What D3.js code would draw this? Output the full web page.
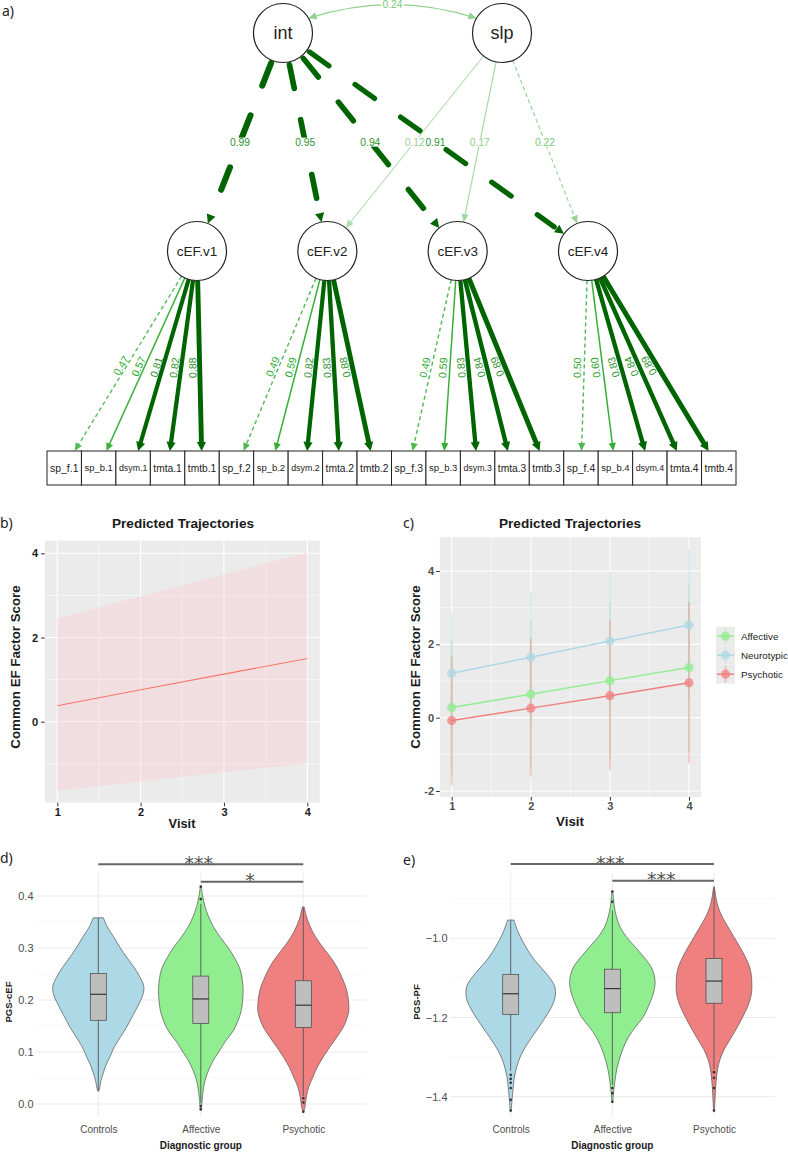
<!DOCTYPE html>
<html>
<head>
<meta charset="utf-8">
<script src="https://cdn.jsdelivr.net/npm/d3@7"></script>
<style>
  body { margin: 0; background: #fff; }
  svg { display: block; }
  text { font-family: "Liberation Sans", Arial, sans-serif; }
</style>
</head>
<body>
<svg id="fig" width="788" height="1153"></svg>
<script>
// ---- a) latent growth model
const growthFactors = ["int", "slp"];
const visitFactors = ["cEF.v1", "cEF.v2", "cEF.v3", "cEF.v4"];
const tasks = ["sp_f", "sp_b", "dsym", "tmta", "tmtb"];
const intLoadings = [0.99, 0.95, 0.94, 0.91];
const slpLoadings = [null, 0.12, 0.17, 0.22];   // no path to visit 1
const slpFixed = [false, false, false, true];
const intSlpCov = 0.24;
const taskLoadings = [
  [0.47, 0.57, 0.81, 0.82, 0.88],
  [0.49, 0.59, 0.82, 0.83, 0.88],
  [0.49, 0.59, 0.83, 0.84, 0.89],
  [0.50, 0.60, 0.83, 0.84, 0.89]
];

// ---- b) overall predicted trajectory
const visits = [1, 2, 3, 4];
const overallFit = [0.38, 0.76, 1.13, 1.50];
const overallLo = [-1.64, -1.42, -1.20, -0.99];
const overallHi = [2.45, 2.98, 3.50, 4.02];

// ---- c) predicted trajectories by group
const trajGroups = ["Affective", "Neurotypic", "Psychotic"];
const trajColors = ["#90ee90", "#add8e6", "#f08080"];
const affectiveFit = [0.28, 0.64, 1.01, 1.37];
const affectiveLo = [-1.56, -1.39, -1.14, -0.93];
const affectiveHi = [2.12, 2.67, 3.16, 3.67];
const neurotypicFit = [1.21, 1.65, 2.09, 2.53];
const neurotypicLo = [-0.43, -0.14, 0.20, 0.46];
const neurotypicHi = [2.85, 3.44, 3.98, 4.60];
const psychoticFit = [-0.08, 0.26, 0.60, 0.95];
const psychoticLo = [-1.84, -1.61, -1.43, -1.24];
const psychoticHi = [1.66, 2.16, 2.65, 3.15];

// ---- d) / e) polygenic scores by diagnostic group
const diagGroups = ["Controls", "Affective", "Psychotic"];
const diagColors = ["#add8e6", "#90ee90", "#f08080"];

// violin outlines: [score, relative density]
const cefViolinControls = [[0.358,0.11],[0.34,0.2],[0.322,0.33],[0.3,0.48],[0.283,0.61],[0.265,0.76],[0.245,0.9],[0.226,0.99],[0.21,0.97],[0.19,0.87],[0.17,0.75],[0.15,0.63],[0.13,0.49],[0.11,0.35],[0.09,0.25],[0.075,0.17],[0.06,0.11],[0.045,0.06],[0.033,0.035],[0.025,0.015]];
const cefViolinAffective = [[0.418,0.01],[0.4,0.04],[0.38,0.09],[0.36,0.17],[0.34,0.28],[0.32,0.43],[0.3,0.6],[0.28,0.74],[0.26,0.85],[0.24,0.9],[0.22,0.92],[0.2,0.91],[0.18,0.88],[0.16,0.81],[0.14,0.7],[0.12,0.53],[0.1,0.39],[0.085,0.28],[0.065,0.17],[0.046,0.094],[0.025,0.05],[0.008,0.03],[-0.012,0.01]];
const cefViolinPsychotic = [[0.379,0.02],[0.36,0.07],[0.35,0.11],[0.33,0.21],[0.313,0.33],[0.295,0.48],[0.275,0.65],[0.255,0.78],[0.237,0.87],[0.22,0.94],[0.2,0.98],[0.18,0.99],[0.165,0.95],[0.148,0.87],[0.13,0.74],[0.11,0.58],[0.09,0.43],[0.07,0.3],[0.05,0.2],[0.033,0.12],[0.015,0.07],[-0.006,0.035],[-0.015,0.01]];
const cefQ1 = [0.161, 0.155, 0.147];
const cefMedian = [0.211, 0.202, 0.190];
const cefQ3 = [0.251, 0.246, 0.237];
const cefWhiskLo = [0.025, 0.002, 0.015];
const cefWhiskHi = [0.358, 0.385, 0.378];
const cefOutliers = [[], [0.394, 0.418, -0.004, -0.010], [0.011, 0.003, -0.015]];
const cefTests = [["Controls", "Psychotic", "***", 0.461], ["Affective", "Psychotic", "*", 0.4275]];

const pfViolinControls = [[-0.954,0.07],[-0.98,0.15],[-1.004,0.25],[-1.03,0.38],[-1.055,0.53],[-1.072,0.66],[-1.089,0.79],[-1.105,0.9],[-1.122,0.98],[-1.147,0.99],[-1.168,0.93],[-1.189,0.83],[-1.215,0.68],[-1.24,0.53],[-1.265,0.38],[-1.29,0.25],[-1.315,0.16],[-1.34,0.1],[-1.365,0.065],[-1.39,0.044],[-1.415,0.025],[-1.437,0.01]];
const pfViolinAffective = [[-0.882,0.01],[-0.9,0.025],[-0.92,0.044],[-0.945,0.09],[-0.971,0.17],[-0.996,0.31],[-1.021,0.5],[-1.046,0.69],[-1.072,0.86],[-1.093,0.93],[-1.114,0.95],[-1.13,0.93],[-1.147,0.89],[-1.172,0.8],[-1.198,0.69],[-1.223,0.52],[-1.249,0.36],[-1.275,0.25],[-1.3,0.17],[-1.33,0.1],[-1.358,0.06],[-1.385,0.03],[-1.413,0.01]];
const pfViolinPsychotic = [[-0.87,0.01],[-0.895,0.04],[-0.92,0.09],[-0.945,0.18],[-0.971,0.31],[-0.996,0.44],[-1.021,0.57],[-1.046,0.69],[-1.072,0.79],[-1.093,0.83],[-1.114,0.84],[-1.13,0.84],[-1.147,0.82],[-1.172,0.75],[-1.198,0.64],[-1.228,0.5],[-1.257,0.35],[-1.282,0.22],[-1.307,0.13],[-1.33,0.08],[-1.358,0.05],[-1.39,0.03],[-1.437,0.01]];
const pfQ1 = [-1.192, -1.188, -1.164];
const pfMedian = [-1.140, -1.127, -1.108];
const pfQ3 = [-1.091, -1.078, -1.051];
const pfWhiskLo = [-1.335, -1.37, -1.33];
const pfWhiskHi = [-0.955, -0.93, -0.875];
const pfOutliers = [[-1.345, -1.355, -1.365, -1.378, -1.408, -1.435], [-0.908, -0.882, -1.378, -1.391, -1.413], [-1.338, -1.352, -1.378, -1.435]];
const pfTests = [["Controls", "Psychotic", "***", -0.8124], ["Affective", "Psychotic", "***", -0.8545]];

const svg = d3.select("#fig");

function letter(t, x, y) {
  svg.append("text").attr("x", x).attr("y", y).text(t)
    .style("font-family", "'Noto Sans', 'Open Sans', sans-serif")
    .style("font-size", "14px").attr("fill", "#222");
}

// =================== a) path diagram ===================
letter("a)", 2, 16);
const gA = svg.append("g");
const gEdge = gA.append("g"), gNode = gA.append("g"), gLab = gA.append("g");
const nodeR = 29.5, yTop = 33, yVisit = 251, boxTop = 451, boxH = 34;
const xTop = d3.scalePoint().domain(growthFactors).range([283, 502]);
const xVisit = d3.scalePoint().domain(visitFactors).range([197, 588]);
const xBox = d3.scaleBand().domain(d3.range(visitFactors.length * tasks.length)).range([47, 736]);

const weakCol = "#009900", strongCol = "#006400";
const edgeCol = w => w >= 0.8 ? strongCol : d3.interpolateRgb("#ffffff", weakCol)(Math.min(1, 0.2 + w));
const edgeW = w => w >= 0.8 ? 4 + (w - 0.8) * 11 : 1 + w * 0.8;
const labCol = w => w >= 0.8 ? "#2f922f" : d3.interpolateRgb("#ffffff", weakCol)(Math.min(1, 0.3 + w));

function onCircle(cx, cy, tx, ty) {
  const dx = tx - cx, dy = ty - cy, L = Math.hypot(dx, dy);
  return [cx + nodeR * dx / L, cy + nodeR * dy / L];
}

function arrowHead(tip, from, col, al, aw) {
  const dx = tip[0] - from[0], dy = tip[1] - from[1], L = Math.hypot(dx, dy);
  const ux = dx / L, uy = dy / L;
  const b = [tip[0] - ux * al, tip[1] - uy * al];
  gEdge.append("path")
    .attr("d", `M${tip[0]},${tip[1]}L${b[0] - uy * aw},${b[1] + ux * aw}L${b[0] + uy * aw},${b[1] - ux * aw}Z`)
    .attr("fill", col);
}

function arrowEdge(p0, p1, w, dashed) {
  const col = edgeCol(w), sw = edgeW(w), thick = sw > 3;
  const dx = p1[0] - p0[0], dy = p1[1] - p0[1], L = Math.hypot(dx, dy);
  const al = thick ? 9 : 8, aw = thick ? 4.6 : 3.6;
  const cut = (thick && dashed) ? al + 3 : al * 0.8;
  gEdge.append("line")
    .attr("x1", p0[0] + (thick && dashed ? 3 * dx / L : 0)).attr("y1", p0[1] + (thick && dashed ? 3 * dy / L : 0))
    .attr("x2", p1[0] - dx / L * cut).attr("y2", p1[1] - dy / L * cut)
    .attr("stroke", col).attr("stroke-width", sw)
    .attr("stroke-dasharray", dashed ? (thick ? "24 32" : "4 3") : null)
    .attr("stroke-linecap", dashed && thick ? "round" : "butt");
  arrowHead(p1, p0, col, al, aw);
}

function flatLabel(x, y, txt, w) {
  const t = gLab.append("text").attr("x", x).attr("y", y).attr("dy", "0.35em")
    .attr("text-anchor", "middle").style("font-size", "10.3px").attr("fill", labCol(w)).text(txt);
  const bb = t.node().getBBox();
  gLab.insert("rect", () => t.node())
    .attr("x", bb.x - 1).attr("y", bb.y + 1).attr("width", bb.width + 2).attr("height", bb.height - 2)
    .attr("fill", "#fff");
}

// intercept and slope loadings
visitFactors.forEach((v, i) => {
  const tx = xVisit(v);
  const p0 = onCircle(xTop("int"), yTop, tx, yVisit), p1 = onCircle(tx, yVisit, xTop("int"), yTop);
  arrowEdge(p0, p1, intLoadings[i], true);
  flatLabel((p0[0] + p1[0]) / 2, (p0[1] + p1[1]) / 2, intLoadings[i].toFixed(2), intLoadings[i]);
});
visitFactors.forEach((v, i) => {
  if (slpLoadings[i] === null) return;
  const tx = xVisit(v);
  const p0 = onCircle(xTop("slp"), yTop, tx, yVisit), p1 = onCircle(tx, yVisit, xTop("slp"), yTop);
  arrowEdge(p0, p1, slpLoadings[i], slpFixed[i]);
  flatLabel((p0[0] + p1[0]) / 2, (p0[1] + p1[1]) / 2, slpLoadings[i].toFixed(2), slpLoadings[i]);
});

// int <-> slp covariance
{
  const a = Math.PI / 6;
  const a0 = [xTop("int") + nodeR * Math.cos(a), yTop - nodeR * Math.sin(a)];
  const a1 = [xTop("slp") - nodeR * Math.cos(a), yTop - nodeR * Math.sin(a)];
  const c = [(a0[0] + a1[0]) / 2, yTop - 42];
  const col = edgeCol(intSlpCov);
  gEdge.append("path").attr("d", `M${a0[0]},${a0[1]} Q${c[0]},${c[1]} ${a1[0]},${a1[1]}`).attr("fill", "none")
    .attr("stroke", col).attr("stroke-width", 1.2);
  arrowHead(a0, c, col, 8, 3.6);
  arrowHead(a1, c, col, 8, 3.6);
  flatLabel(0.25 * a0[0] + 0.5 * c[0] + 0.25 * a1[0], 0.25 * a0[1] + 0.5 * c[1] + 0.25 * a1[1],
    intSlpCov.toFixed(2), intSlpCov);
}

// visit factor -> task loadings
visitFactors.forEach((v, i) => {
  const cx = xVisit(v);
  tasks.forEach((t, j) => {
    const k = i * tasks.length + j;
    const bx = xBox(k) + xBox.bandwidth() / 2, by = boxTop + boxH / 2;
    const s = (boxTop - yVisit) / (by - yVisit);
    const p1 = [cx + s * (bx - cx), boxTop];
    const p0 = onCircle(cx, yVisit, bx, by);
    const w = taskLoadings[i][j];
    arrowEdge(p0, p1, w, j === 0);
    const m = [(p0[0] + p1[0]) / 2 - 7, (p0[1] + p1[1]) / 2 + 2];
    const ang = Math.atan2(p0[1] - p1[1], p0[0] - p1[0]) * 180 / Math.PI;
    gLab.append("text").attr("transform", `translate(${m[0]},${m[1]}) rotate(${ang})`)
      .attr("text-anchor", "middle").attr("dy", "0.35em").style("font-size", "10.5px")
      .attr("fill", labCol(w)).text(w.toFixed(2));
  });
});

// nodes
growthFactors.forEach(f => {
  gNode.append("circle").attr("cx", xTop(f)).attr("cy", yTop).attr("r", nodeR)
    .attr("fill", "#fff").attr("stroke", "#222").attr("stroke-width", 1.2);
  gNode.append("text").attr("x", xTop(f)).attr("y", yTop).attr("dy", "0.35em")
    .attr("text-anchor", "middle").style("font-size", "18px").attr("fill", "#222").text(f);
});
visitFactors.forEach(v => {
  gNode.append("circle").attr("cx", xVisit(v)).attr("cy", yVisit).attr("r", nodeR)
    .attr("fill", "#fff").attr("stroke", "#222").attr("stroke-width", 1.2);
  gNode.append("text").attr("x", xVisit(v)).attr("y", yVisit).attr("dy", "0.35em")
    .attr("text-anchor", "middle").style("font-size", "13.5px").attr("fill", "#222").text(v);
});
visitFactors.forEach((v, i) => tasks.forEach((t, j) => {
  const k = i * tasks.length + j;
  gNode.append("rect").attr("x", xBox(k)).attr("y", boxTop)
    .attr("width", xBox.bandwidth()).attr("height", boxH)
    .attr("fill", "#fff").attr("stroke", "#222").attr("stroke-width", 1);
  const txt = gNode.append("text").attr("x", xBox(k) + xBox.bandwidth() / 2).attr("y", boxTop + boxH / 2)
    .attr("dy", "0.35em").attr("text-anchor", "middle").style("font-size", "11px")
    .attr("fill", "#222").text(`${t}.${i + 1}`);
  const len = txt.node().getComputedTextLength();
  if (len > 28.5) txt.style("font-size", (11 * 28.5 / len).toFixed(2) + "px");
}));

// =================== shared ggplot grey panel ===================
function greyPanel(g, x, y, xDom, yDom, xMajor, xMinor, yMajor, yMinor) {
  const x0 = x(xDom[0]), x1 = x(xDom[1]), y0 = y(yDom[0]), y1 = y(yDom[1]);
  g.append("rect").attr("x", x0).attr("y", y1).attr("width", x1 - x0).attr("height", y0 - y1).attr("fill", "#ebebeb");
  const vline = (v, sw) => g.append("line").attr("x1", x(v)).attr("x2", x(v)).attr("y1", y1).attr("y2", y0)
    .attr("stroke", "#fff").attr("stroke-width", sw);
  const hline = (v, sw) => g.append("line").attr("x1", x0).attr("x2", x1).attr("y1", y(v)).attr("y2", y(v))
    .attr("stroke", "#fff").attr("stroke-width", sw);
  xMinor.forEach(v => vline(v, 0.55));
  yMinor.forEach(v => hline(v, 0.55));
  xMajor.forEach(v => vline(v, 1.1));
  yMajor.forEach(v => hline(v, 1.1));
  return { x0, x1, y0, y1 };
}

function styleAxis(sel, fill, weight, size) {
  sel.select(".domain").remove();
  sel.selectAll(".tick line").attr("stroke", "#333").attr("stroke-width", 1);
  sel.selectAll(".tick text").attr("fill", fill).style("font-weight", weight)
    .style("font-size", size).style("font-family", "'Liberation Sans', Arial, sans-serif");
}

// =================== b) overall trajectory ===================
letter("b)", 0, 528);
const gB = svg.append("g");
const bx = d3.scaleLinear().domain([1, 4]).range([57.3, 307.3]);
const by = d3.scaleLinear().domain([0, 4]).range([721.7, 553.3]);
const bPad = (d3.max(overallHi) - d3.min(overallLo)) * 0.05;
const bP = greyPanel(gB, bx, by, [0.85, 4.15], [d3.min(overallLo) - bPad, d3.max(overallHi) + bPad],
  [1, 2, 3, 4], [1.5, 2.5, 3.5], [0, 2, 4], [-1, 1, 3]);

gB.append("path").datum(visits)
  .attr("d", d3.area().x(d => bx(d)).y0((d, i) => by(overallLo[i])).y1((d, i) => by(overallHi[i])))
  .attr("fill", "pink").attr("fill-opacity", 0.3);
gB.append("path").datum(visits)
  .attr("d", d3.line().x(d => bx(d)).y((d, i) => by(overallFit[i])))
  .attr("fill", "none").attr("stroke", "#f8766d").attr("stroke-width", 1.1);

gB.append("g").attr("transform", `translate(${bP.x0},0)`)
  .call(d3.axisLeft(by).tickValues([0, 2, 4]).tickSize(3.7).tickPadding(3).tickFormat(d3.format("d")))
  .call(s => styleAxis(s, "#1a1a1a", "bold", "11px"));
gB.append("g").attr("transform", `translate(0,${bP.y0})`)
  .call(d3.axisBottom(bx).tickValues(visits).tickSize(3.7).tickPadding(2).tickFormat(d3.format("d")))
  .call(s => styleAxis(s, "#1a1a1a", "bold", "11px"));

gB.append("text").attr("x", 183).attr("y", 528).attr("text-anchor", "middle")
  .style("font-weight", "bold").style("font-size", "13.6px").attr("fill", "#1a1a1a").text("Predicted Trajectories");
gB.append("text").attr("x", 182).attr("y", 828).attr("text-anchor", "middle")
  .style("font-weight", "bold").style("font-size", "12.8px").attr("fill", "#1a1a1a").text("Visit");
gB.append("text").attr("transform", "translate(19.5,667) rotate(-90)").attr("text-anchor", "middle")
  .style("font-weight", "bold").style("font-size", "13.3px").attr("fill", "#1a1a1a").text("Common EF Factor Score");

// =================== c) trajectories by group ===================
letter("c)", 403, 528);
const gC = svg.append("g");
const cx = d3.scaleLinear().domain([1, 4]).range([451.7, 689]);
const cy = d3.scaleLinear().domain([-2, 4]).range([791, 571]);
const cFits = [affectiveFit, neurotypicFit, psychoticFit];
const cLos = [affectiveLo, neurotypicLo, psychoticLo];
const cHis = [affectiveHi, neurotypicHi, psychoticHi];
const cMin = d3.min(cLos.flat()), cMax = d3.max(cHis.flat()), cPad = (cMax - cMin) * 0.05;
const cP = greyPanel(gC, cx, cy, [0.85, 4.15], [cMin - cPad, cMax + cPad],
  [1, 2, 3, 4], [1.5, 2.5, 3.5], [-2, 0, 2, 4], [-1, 1, 3]);

trajGroups.forEach((g, gi) => {
  visits.forEach((v, i) => {
    gC.append("line").attr("x1", cx(v)).attr("x2", cx(v))
      .attr("y1", cy(cLos[gi][i])).attr("y2", cy(cHis[gi][i]))
      .attr("stroke", trajColors[gi]).attr("stroke-width", 1.8).attr("stroke-opacity", 0.4);
  });
});
trajGroups.forEach((g, gi) => {
  gC.append("path").datum(visits)
    .attr("d", d3.line().x(d => cx(d)).y((d, i) => cy(cFits[gi][i])))
    .attr("fill", "none").attr("stroke", trajColors[gi]).attr("stroke-width", 1.5);
  gC.selectAll(null).data(visits).enter().append("circle")
    .attr("cx", d => cx(d)).attr("cy", (d, i) => cy(cFits[gi][i])).attr("r", 4.6)
    .attr("fill", trajColors[gi]).attr("fill-opacity", 0.75);
});

gC.append("g").attr("transform", `translate(${cP.x0},0)`)
  .call(d3.axisLeft(cy).tickValues([-2, 0, 2, 4]).tickSize(3.7).tickPadding(2).tickFormat(d => d3.format("d")(d).replace("\u2212", "-")))
  .call(s => styleAxis(s, "#4d4d4d", "bold", "11px"));
gC.append("g").attr("transform", `translate(0,${cP.y0})`)
  .call(d3.axisBottom(cx).tickValues(visits).tickSize(3.7).tickPadding(2).tickFormat(d3.format("d")))
  .call(s => styleAxis(s, "#4d4d4d", "bold", "11px"));

gC.append("text").attr("x", 570).attr("y", 528).attr("text-anchor", "middle")
  .style("font-weight", "bold").style("font-size", "13.6px").attr("fill", "#1a1a1a").text("Predicted Trajectories");
gC.append("text").attr("x", 570).attr("y", 826).attr("text-anchor", "middle")
  .style("font-weight", "bold").style("font-size", "13.3px").attr("fill", "#1a1a1a").text("Visit");
gC.append("text").attr("transform", "translate(419.5,667) rotate(-90)").attr("text-anchor", "middle")
  .style("font-weight", "bold").style("font-size", "13.3px").attr("fill", "#1a1a1a").text("Common EF Factor Score");

// legend
const legY = d3.scaleBand().domain(trajGroups).range([626.7, 683.7]);
trajGroups.forEach((g, gi) => {
  const y0 = legY(g), h = legY.bandwidth(), ym = y0 + h / 2;
  gC.append("rect").attr("x", 716).attr("y", y0).attr("width", 19).attr("height", h).attr("fill", "#ebebeb");
  gC.append("line").attr("x1", 725.5).attr("x2", 725.5).attr("y1", y0 + 1).attr("y2", y0 + h - 1)
    .attr("stroke", trajColors[gi]).attr("stroke-width", 1.8).attr("stroke-opacity", 0.4);
  gC.append("line").attr("x1", 717).attr("x2", 734).attr("y1", ym).attr("y2", ym)
    .attr("stroke", trajColors[gi]).attr("stroke-width", 1.5);
  gC.append("circle").attr("cx", 725.5).attr("cy", ym).attr("r", 4.6)
    .attr("fill", trajColors[gi]).attr("fill-opacity", 0.75);
  gC.append("text").attr("x", 741).attr("y", ym).attr("dy", "0.35em")
    .style("font-size", "9.8px").attr("fill", "#1a1a1a").text(g);
});

// =================== d) / e) violins ===================
function violinPanel(o) {
  const g = svg.append("g");
  const x = d3.scalePoint().domain(diagGroups).range(o.xRange);
  const y = d3.scaleLinear().domain(o.yDom).range(o.yRange);
  const w = d3.scaleLinear().domain([0, 1]).range([0, o.maxHalf]);
  const top = 873, bottom = 1116.7;
  o.yMinor.forEach(v => g.append("line").attr("x1", o.gridX[0]).attr("x2", o.gridX[1])
    .attr("y1", y(v)).attr("y2", y(v)).attr("stroke", "#f3f3f3").attr("stroke-width", 0.6));
  o.yMajor.forEach(v => g.append("line").attr("x1", o.gridX[0]).attr("x2", o.gridX[1])
    .attr("y1", y(v)).attr("y2", y(v)).attr("stroke", "#ebebeb").attr("stroke-width", 1));
  diagGroups.forEach(d => g.append("line").attr("x1", x(d)).attr("x2", x(d))
    .attr("y1", top).attr("y2", bottom).attr("stroke", "#ebebeb").attr("stroke-width", 1));

  diagGroups.forEach((d, i) => {
    const c = x(d);
    g.append("path").datum(o.violins[i])
      .attr("d", d3.area().curve(d3.curveCatmullRom)
        .y(p => y(p[0])).x0(p => c - w(p[1])).x1(p => c + w(p[1])))
      .attr("fill", diagColors[i]).attr("stroke", "#555").attr("stroke-width", 0.7);
    g.append("line").attr("x1", c).attr("x2", c).attr("y1", y(o.whiskHi[i])).attr("y2", y(o.whiskLo[i]))
      .attr("stroke", "#555").attr("stroke-width", 0.9);
    g.append("rect").attr("x", c - 8).attr("y", y(o.q3[i])).attr("width", 16)
      .attr("height", y(o.q1[i]) - y(o.q3[i]))
      .attr("fill", "#bebebe").attr("stroke", "#444").attr("stroke-width", 0.7);
    g.append("line").attr("x1", c - 8).attr("x2", c + 8).attr("y1", y(o.median[i])).attr("y2", y(o.median[i]))
      .attr("stroke", "#333").attr("stroke-width", 1.2);
    o.outliers[i].forEach(v => g.append("circle").attr("cx", c).attr("cy", y(v)).attr("r", 1.3).attr("fill", "#333"));
  });

  o.tests.forEach(t => {
    const yy = y(t[3]);
    g.append("line").attr("x1", x(t[0])).attr("x2", x(t[1])).attr("y1", yy).attr("y2", yy)
      .attr("stroke", "#666").attr("stroke-width", 2);
    g.append("text").attr("x", (x(t[0]) + x(t[1])) / 2 - 2).attr("y", yy + 5.5).attr("text-anchor", "middle")
      .style("font-family", "'DejaVu Sans', sans-serif").style("font-size", "19px").attr("fill", "#555").text(t[2]);
  });

  g.append("g").attr("transform", `translate(${o.yLabelX},0)`)
    .call(d3.axisLeft(y).tickValues(o.yMajor).tickSize(0).tickPadding(0).tickFormat(d3.format(".1f")))
    .call(s => styleAxis(s, "#4d4d4d", "normal", "11px"));
  g.append("g").attr("transform", `translate(0,${bottom})`)
    .call(d3.axisBottom(x).tickSize(0).tickPadding(9))
    .call(s => styleAxis(s, "#4d4d4d", "normal", "10px"));

  g.append("text").attr("x", x("Affective")).attr("y", 1149).attr("text-anchor", "middle")
    .style("font-weight", "bold").style("font-size", "10px").attr("fill", "#1a1a1a").text("Diagnostic group");
  g.append("text").attr("transform", `translate(${o.titleX},${o.titleY}) rotate(-90)`).attr("text-anchor", "middle")
    .style("font-weight", "bold").style("font-size", "9.6px").attr("fill", "#1a1a1a").text(o.title);
}

letter("d)", 0, 863);
violinPanel({
  xRange: [98.3, 303.3], yDom: [0, 0.4], yRange: [1104, 896], maxHalf: 46, gridX: [36, 366.7],
  yMajor: [0, 0.1, 0.2, 0.3, 0.4], yMinor: [0.05, 0.15, 0.25, 0.35],
  violins: [cefViolinControls, cefViolinAffective, cefViolinPsychotic],
  q1: cefQ1, median: cefMedian, q3: cefQ3, whiskLo: cefWhiskLo, whiskHi: cefWhiskHi,
  outliers: cefOutliers, tests: cefTests, yLabelX: 33.5, title: "PGS-cEF", titleX: 11.5, titleY: 1002
});

letter("e)", 403, 865);
violinPanel({
  xRange: [510.7, 714], yDom: [-1.4, -1.0], yRange: [1096.7, 938.3], maxHalf: 45, gridX: [450, 775],
  yMajor: [-1.4, -1.2, -1.0], yMinor: [-1.3, -1.1, -0.9],
  violins: [pfViolinControls, pfViolinAffective, pfViolinPsychotic],
  q1: pfQ1, median: pfMedian, q3: pfQ3, whiskLo: pfWhiskLo, whiskHi: pfWhiskHi,
  outliers: pfOutliers, tests: pfTests, yLabelX: 447.5, title: "PGS-PF", titleX: 420, titleY: 1002
});
</script>
</body>
</html>
